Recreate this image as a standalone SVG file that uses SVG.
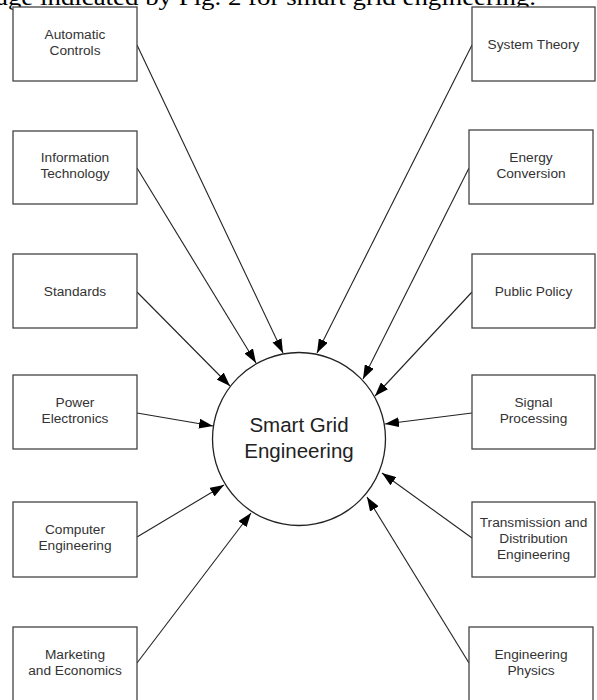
<svg xmlns="http://www.w3.org/2000/svg" width="597" height="700" viewBox="0 0 597 700">
<style>
.box{fill:#fff;stroke:#444;stroke-width:1.3}
.lbl{font-family:"Liberation Sans",Arial,sans-serif;font-size:13.7px;fill:#333;text-anchor:middle}
.big{font-family:"Liberation Sans",Arial,sans-serif;font-size:20.5px;fill:#222;text-anchor:middle}
.cap{font-family:"Liberation Serif","Times New Roman",serif;font-size:24px;fill:#000}
.con{stroke:#222;stroke-width:1.1;fill:none;marker-end:url(#ah)}
</style>
<defs>
<marker id="ah" markerUnits="userSpaceOnUse" markerWidth="15" markerHeight="10" refX="14" refY="5" orient="auto">
<path d="M0,0 L14,5 L0,10 z" fill="#000"/>
</marker>
</defs>
<rect width="597" height="700" fill="#fff"/>
<text class="cap" x="-4" y="5" textLength="540" lengthAdjust="spacingAndGlyphs">age indicated by Fig. 2 for smart grid engineering.</text>
<g id="connectors">
<line class="con" x1="137" y1="45" x2="283" y2="353"/>
<line class="con" x1="137" y1="168" x2="256" y2="363"/>
<line class="con" x1="137" y1="292" x2="230" y2="386"/>
<line class="con" x1="137" y1="413" x2="213" y2="426"/>
<line class="con" x1="137" y1="537" x2="224" y2="485"/>
<line class="con" x1="137" y1="663" x2="251" y2="513"/>
<line class="con" x1="472" y1="45" x2="317" y2="353"/>
<line class="con" x1="469" y1="168" x2="363" y2="379"/>
<line class="con" x1="472" y1="292" x2="375" y2="396"/>
<line class="con" x1="472" y1="413" x2="385" y2="424"/>
<line class="con" x1="472" y1="538" x2="382" y2="473"/>
<line class="con" x1="469" y1="663" x2="367" y2="497"/>
</g>
<g id="center">
<circle cx="299" cy="439" r="86.5" fill="#fff" stroke="#222" stroke-width="1.3"/>
<text class="big" x="299" y="432">Smart Grid</text>
<text class="big" x="299" y="458">Engineering</text>
</g>
<g id="automatic-controls"><rect class="box" x="13" y="7" width="124" height="74"/><text class="lbl" x="75" y="39">Automatic</text><text class="lbl" x="75" y="55">Controls</text></g>
<g id="information-technology"><rect class="box" x="13" y="131" width="124" height="73"/><text class="lbl" x="75" y="162">Information</text><text class="lbl" x="75" y="178">Technology</text></g>
<g id="standards"><rect class="box" x="13" y="254" width="124" height="74"/><text class="lbl" x="75" y="296">Standards</text></g>
<g id="power-electronics"><rect class="box" x="13" y="375" width="124" height="74"/><text class="lbl" x="75" y="407">Power</text><text class="lbl" x="75" y="423">Electronics</text></g>
<g id="computer-engineering"><rect class="box" x="13" y="502" width="124" height="75"/><text class="lbl" x="75" y="534">Computer</text><text class="lbl" x="75" y="550">Engineering</text></g>
<g id="marketing-economics"><rect class="box" x="13" y="627" width="124" height="74"/><text class="lbl" x="75" y="659">Marketing</text><text class="lbl" x="75" y="675">and Economics</text></g>
<g id="system-theory"><rect class="box" x="472" y="7" width="123" height="74"/><text class="lbl" x="533.5" y="49">System Theory</text></g>
<g id="energy-conversion"><rect class="box" x="469" y="130" width="124" height="74"/><text class="lbl" x="531" y="162">Energy</text><text class="lbl" x="531" y="178">Conversion</text></g>
<g id="public-policy"><rect class="box" x="472" y="254" width="123" height="74"/><text class="lbl" x="533.5" y="296">Public Policy</text></g>
<g id="signal-processing"><rect class="box" x="472" y="375" width="123" height="74"/><text class="lbl" x="533.5" y="407">Signal</text><text class="lbl" x="533.5" y="423">Processing</text></g>
<g id="transmission-distribution"><rect class="box" x="472" y="502" width="123" height="75"/><text class="lbl" x="533.5" y="527">Transmission and</text><text class="lbl" x="533.5" y="543">Distribution</text><text class="lbl" x="533.5" y="559">Engineering</text></g>
<g id="engineering-physics"><rect class="box" x="469" y="627" width="124" height="74"/><text class="lbl" x="531" y="659">Engineering</text><text class="lbl" x="531" y="675">Physics</text></g>
</svg>
